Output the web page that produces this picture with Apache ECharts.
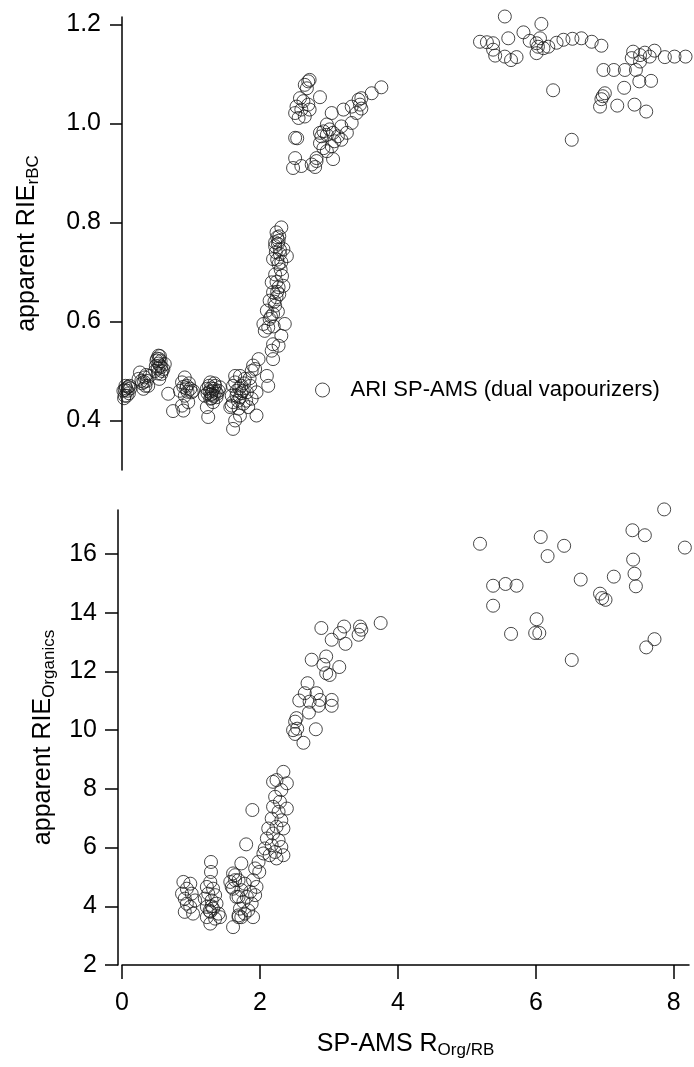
<!DOCTYPE html>
<html>
<head>
<meta charset="utf-8">
<script src="https://cdn.jsdelivr.net/npm/echarts@6/dist/echarts.min.js"></script>
<style>html,body{margin:0;padding:0;background:#fff}#c{width:694px;height:1067px}</style>
</head>
<body>
<div id="c"></div>
<script>
// apparent RIE_rBC vs SP-AMS R_Org/RB  (top panel)
const rbcData = [
 [0.02,0.46],[0.05,0.47],[0.08,0.46],[0.10,0.455],[0.04,0.45],[0.12,0.465],[0.03,0.445],[0.07,0.45],[0.11,0.47],[0.06,0.465],[0.04,0.462],[0.09,0.468],
 [0.26,0.497],[0.33,0.487],[0.38,0.47],[0.31,0.464],[0.36,0.48],[0.24,0.484],[0.29,0.475],[0.34,0.47],[0.40,0.49],[0.28,0.48],[0.32,0.478],[0.35,0.492],
 [0.53,0.531],[0.50,0.521],[0.55,0.511],[0.60,0.504],[0.48,0.50],[0.57,0.494],[0.62,0.514],[0.54,0.484],[0.51,0.525],[0.56,0.52],[0.52,0.505],[0.58,0.50],[0.49,0.51],[0.55,0.53],[0.53,0.515],[0.57,0.508],[0.52,0.495],[0.54,0.524],
 [0.67,0.454],[0.74,0.419],[0.89,0.42],
 [0.91,0.487],[0.87,0.477],[0.94,0.47],[0.99,0.464],[0.84,0.46],[1.01,0.457],[0.91,0.45],[0.96,0.437],[0.87,0.43],[1.03,0.46],[0.93,0.465],[0.97,0.475],[0.89,0.468],[0.95,0.458],
 [1.28,0.477],[1.35,0.47],[1.23,0.464],[1.40,0.46],[1.30,0.454],[1.20,0.45],[1.37,0.447],[1.28,0.444],[1.32,0.437],[1.23,0.427],[1.25,0.407],[1.42,0.467],[1.31,0.46],[1.26,0.47],[1.33,0.45],[1.29,0.465],[1.36,0.458],[1.24,0.455],[1.30,0.445],[1.34,0.475],[1.27,0.458],[1.33,0.464],[1.38,0.454],[1.29,0.452],
 [1.64,0.49],[1.61,0.47],[1.66,0.45],[1.59,0.43],[1.61,0.383],
 [1.98,0.524],[1.90,0.511],[1.88,0.50],[1.93,0.504],[2.10,0.49],[2.12,0.47],[1.71,0.49],[1.78,0.484],[1.64,0.477],[1.73,0.47],[1.86,0.47],[1.66,0.46],[1.81,0.457],[1.95,0.457],[1.59,0.45],[1.71,0.447],[1.88,0.444],[1.61,0.437],[1.76,0.434],[1.57,0.427],[1.69,0.424],[1.83,0.427],[1.71,0.41],[1.95,0.41],[1.64,0.40],[1.75,0.46],[1.68,0.44],[1.80,0.44],[1.73,0.455],[1.85,0.485],[1.77,0.475],[1.70,0.465],
 [2.31,0.79],[2.24,0.78],[2.25,0.77],[2.22,0.76],[2.27,0.763],[2.22,0.752],[2.34,0.746],[2.29,0.736],[2.39,0.732],[2.19,0.726],[2.27,0.716],[2.22,0.695],[2.32,0.692],[2.17,0.679],[2.27,0.669],[2.34,0.672],[2.19,0.659],[2.24,0.649],[2.14,0.642],[2.22,0.632],[2.10,0.622],[2.19,0.615],[2.14,0.605],[2.05,0.595],[2.12,0.588],[2.07,0.581],[2.36,0.595],[2.31,0.571],[2.19,0.554],[2.27,0.551],[2.17,0.541],[2.19,0.524],[2.29,0.745],[2.25,0.725],[2.30,0.705],[2.24,0.68],[2.28,0.655],[2.21,0.64],[2.26,0.62],[2.16,0.61],[2.20,0.59],[2.26,0.757],[2.28,0.772],[2.23,0.74],[2.31,0.72],[2.25,0.66],
 [2.70,1.085],[2.72,1.088],[2.65,1.078],[2.68,1.071],[2.87,1.053],[2.58,1.051],[2.53,1.034],[2.63,1.045],[2.70,1.038],[2.60,1.028],[2.72,1.028],[2.51,1.021],[2.56,1.011],[2.65,1.014],[2.51,0.971],[2.54,0.97],[2.51,0.93],[2.48,0.91],[2.60,0.914],[2.75,0.917],[2.82,0.924],[2.82,0.93],[2.80,0.912],[3.06,0.928],[2.97,0.944],[2.87,0.981],[2.92,0.984],[2.97,0.977],[2.89,0.974],[3.01,0.988],[3.06,0.981],[3.13,0.974],[3.18,0.967],[3.08,0.964],[2.97,0.998],[2.87,0.96],[2.92,0.95],[3.04,0.954],[3.18,0.994],[3.26,0.981],[3.33,1.001],[3.04,1.021],[3.21,1.028],[3.33,1.034],[3.43,1.048],[3.47,1.051],[3.45,1.038],[3.47,1.03],[3.40,1.021],[3.62,1.061],[3.76,1.073],
 [5.55,1.216],[6.08,1.201],[5.60,1.172],[5.19,1.165],[5.29,1.164],[5.38,1.162],[5.38,1.149],[5.41,1.137],[5.55,1.135],[5.64,1.128],[5.72,1.134],[5.82,1.184],[5.91,1.167],[6.01,1.162],[6.06,1.172],[6.03,1.155],[6.11,1.152],[6.01,1.142],[6.18,1.155],[6.30,1.163],[6.40,1.169],[6.53,1.171],[6.66,1.172],[6.81,1.165],[6.95,1.157],[6.25,1.067],[6.52,0.967],
 [7.41,1.145],[7.51,1.138],[7.58,1.143],[7.72,1.147],[7.65,1.135],[7.39,1.132],[7.51,1.125],[7.87,1.134],[8.01,1.135],[8.17,1.135],[6.98,1.108],[7.13,1.108],[7.29,1.108],[7.45,1.108],[7.50,1.085],[7.67,1.086],[7.28,1.072],[7.00,1.061],[6.97,1.055],[6.95,1.049],[6.93,1.034],[7.18,1.036],[7.43,1.038],[7.60,1.024]
];
// apparent RIE_Organics vs SP-AMS R_Org/RB  (bottom panel)
const orgData = [
 [0.89,4.83],[0.99,4.77],[0.94,4.60],[0.87,4.43],[1.01,4.43],[0.91,4.26],[1.06,4.20],[0.94,4.09],[0.99,3.98],[0.91,3.81],[1.03,3.75],
 [1.29,5.51],[1.29,5.17],[1.28,4.83],[1.23,4.66],[1.32,4.60],[1.25,4.43],[1.35,4.38],[1.20,4.26],[1.30,4.20],[1.37,4.09],[1.23,3.98],[1.32,3.92],[1.28,3.81],[1.40,3.75],[1.23,3.63],[1.35,3.58],[1.28,3.41],[1.42,3.63],[1.30,4.0],[1.27,3.85],
 [1.61,5.12],[1.64,4.89],[1.59,4.66],[1.66,4.32],[1.61,3.29],[1.69,3.63],
 [1.98,5.51],[1.93,5.29],[1.73,5.46],[1.99,5.17],[1.64,5.06],[1.57,4.83],[1.69,4.89],[1.78,4.77],[1.90,4.89],[1.95,4.66],[1.61,4.60],[1.73,4.55],[1.86,4.49],[1.69,4.32],[1.81,4.32],[1.93,4.38],[1.76,4.15],[1.88,4.09],[1.71,3.92],[1.83,3.86],[1.69,3.69],[1.78,3.75],[1.90,3.63],[1.73,3.63],[1.89,7.28],[1.80,6.11],
 [2.34,8.58],[2.24,8.30],[2.39,8.19],[2.19,8.24],[2.31,7.96],[2.22,7.73],[2.29,7.56],[2.39,7.33],[2.19,7.39],[2.27,7.22],[2.17,6.99],[2.31,6.93],[2.24,6.71],[2.12,6.65],[2.34,6.65],[2.19,6.48],[2.10,6.31],[2.27,6.25],[2.17,6.08],[2.07,5.97],[2.31,6.02],[2.22,5.85],[2.34,5.74],[2.14,5.74],[2.24,5.63],[2.05,5.80],
 [2.63,9.57],[2.89,13.48],[3.22,13.53],[3.16,13.31],[3.04,13.08],[3.24,12.94],[3.45,13.53],[3.47,13.42],[3.43,13.25],[3.75,13.65],[2.75,12.40],[2.96,12.51],[2.92,12.23],[3.15,12.15],[2.96,11.94],[3.01,11.88],[2.69,11.60],[2.65,11.26],[2.82,11.26],[2.57,11.01],[2.72,10.97],[2.87,11.03],[3.04,11.03],[3.04,10.83],[2.85,10.83],[2.71,10.60],[2.53,10.41],[2.51,10.29],[2.54,10.05],[2.48,10.0],[2.51,9.87],[2.81,10.03],
 [5.19,16.35],[6.07,16.58],[6.17,15.93],[6.41,16.28],[7.86,17.52],[7.40,16.81],[7.58,16.64],[8.16,16.22],[7.41,15.81],[7.43,15.33],[7.45,14.90],[7.13,15.23],[6.65,15.13],[5.38,14.92],[5.56,14.98],[5.72,14.92],[5.38,14.24],[6.93,14.65],[6.96,14.50],[7.01,14.44],[6.01,13.78],[5.64,13.28],[5.99,13.31],[6.05,13.31],[7.72,13.10],[7.60,12.82],[6.52,12.39]
];
const rbcTicks = [0.4, 0.6, 0.8, 1.0, 1.2];
const orgTicks = [2, 4, 6, 8, 10, 12, 14, 16];
const xTicks = [0, 2, 4, 6, 8];
const seriesName = 'ARI SP-AMS (dual vapourizers)';

const FONT = '"Liberation Sans", Arial, sans-serif';
const axisLine = {show: true, onZero: false, lineStyle: {color: '#000', width: 1.5}};
const tickStyle = {color: '#000', width: 1.5};
const richTitle = {
  a: {fontSize: 25, lineHeight: 30, verticalAlign: 'middle', color: '#000', fontFamily: FONT},
  s: {fontSize: 17, lineHeight: 12, verticalAlign: 'bottom', color: '#000', fontFamily: FONT}
};
const markerStyle = {color: 'rgba(0,0,0,0)', borderColor: '#1a1a1a', borderWidth: 1};

const chart = echarts.init(document.getElementById('c'), null, {renderer: 'canvas'});
chart.setOption({
  animation: false,
  backgroundColor: '#fff',
  textStyle: {fontFamily: FONT},
  grid: [
    {left: 122, right: 5, top: 17, height: 453},
    {left: 122, right: 5, top: 510, height: 455}
  ],
  legend: {
    show: true, left: 310, top: 374, itemWidth: 14, itemHeight: 14, icon: 'circle',
    itemStyle: {color: 'rgba(0,0,0,0)', borderColor: '#1a1a1a', borderWidth: 1},
    textStyle: {fontSize: 22, color: '#000', padding: [0, 0, 0, 16], fontFamily: FONT},
    data: [seriesName]
  },
  xAxis: [
    {gridIndex: 0, type: 'value', min: 0, max: 8.22, show: false},
    {gridIndex: 1, type: 'value', min: 0, max: 8.22,
     axisLine: axisLine,
     axisTick: {show: true, length: 14, inside: false, customValues: xTicks, lineStyle: tickStyle},
     axisLabel: {customValues: xTicks, fontSize: 25, color: '#000', margin: 26, fontFamily: FONT},
     splitLine: {show: false},
     name: '{a|SP-AMS R}{s|Org/RB}', nameLocation: 'middle', nameGap: 64,
     nameTextStyle: {rich: richTitle}}
  ],
  yAxis: [
    {gridIndex: 0, type: 'value', min: 0.3, max: 1.215,
     axisLine: axisLine,
     axisTick: {show: true, length: 12, customValues: rbcTicks, lineStyle: tickStyle},
     axisLabel: {customValues: rbcTicks, fontSize: 25, color: '#000', margin: 21,
                 formatter: v => v.toFixed(1), fontFamily: FONT},
     splitLine: {show: false},
     name: '{a|apparent RIE}{s|rBC}', nameLocation: 'middle', nameGap: 80,
     nameTextStyle: {rich: richTitle}},
    {gridIndex: 1, type: 'value', min: 2, max: 17.5, offset: 4,
     axisLine: axisLine,
     axisTick: {show: true, length: 13, customValues: orgTicks, lineStyle: tickStyle},
     axisLabel: {customValues: orgTicks, fontSize: 25, color: '#000', margin: 21, fontFamily: FONT},
     splitLine: {show: false},
     name: '{a|apparent RIE}{s|Organics}', nameLocation: 'middle', nameGap: 58,
     nameTextStyle: {rich: richTitle}}
  ],
  series: [
    {name: seriesName, type: 'scatter', xAxisIndex: 0, yAxisIndex: 0, data: rbcData,
     symbol: 'circle', symbolSize: 13, itemStyle: markerStyle, clip: false, silent: true},
    {name: seriesName, type: 'scatter', xAxisIndex: 1, yAxisIndex: 1, data: orgData,
     symbol: 'circle', symbolSize: 13, itemStyle: markerStyle, clip: false, silent: true}
  ]
});
</script>
</body>
</html>
